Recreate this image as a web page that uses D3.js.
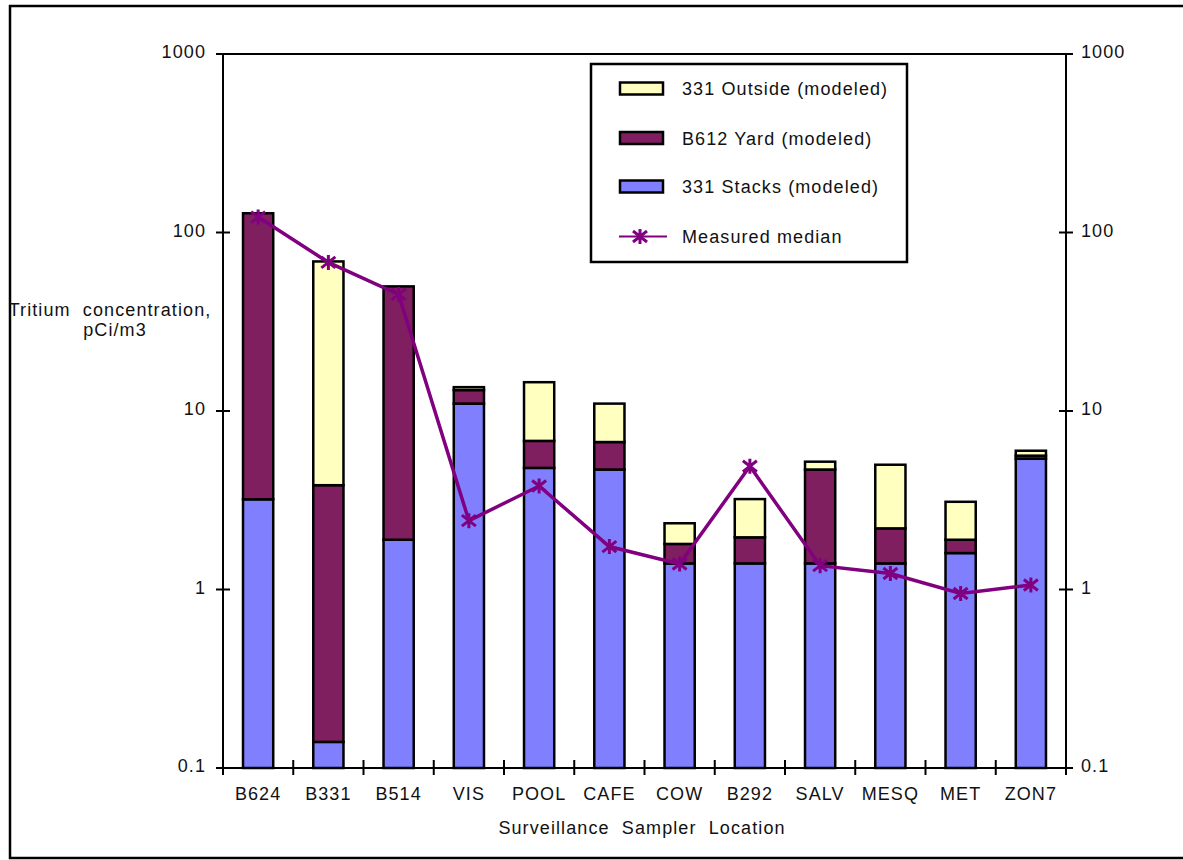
<!DOCTYPE html>
<html>
<head>
<meta charset="utf-8">
<script src="https://cdn.jsdelivr.net/npm/d3@7"></script>
<style>
  html, body { margin: 0; padding: 0; background: #fff; }
  svg { display: block; }
  text { font-family: "Liberation Sans", Arial, sans-serif; font-size: 18px; letter-spacing: 1.1px; fill: #111; white-space: pre; }
</style>
</head>
<body>
<svg id="chart" width="1183" height="860"></svg>
<script>
// Sampler locations along the x axis
const locations = ["B624", "B331", "B514", "VIS", "POOL", "CAFE", "COW", "B292", "SALV", "MESQ", "MET", "ZON7"];

// Modeled contributions (pCi/m3), stacked bottom to top
const stacks331 = [3.2, 0.14, 1.9, 11.0, 4.8, 4.7, 1.4, 1.4, 1.4, 1.4, 1.6, 5.4];
const yardB612  = [125, 3.7, 48, 2.1, 2.0, 2.0, 0.4, 0.56, 3.3, 0.8, 0.3, 0.22];
const outside331 = [0, 65, 0, 0.5, 7.7, 4.3, 0.55, 1.25, 0.5, 2.8, 1.2, 0.37];

// Measured median concentration at each sampler
const measuredMedian = [122, 68, 45, 2.43, 3.8, 1.74, 1.39, 4.9, 1.36, 1.23, 0.95, 1.06];

// Axis ticks
const yTicks = [0.1, 1, 10, 100, 1000];
const yTickLabels = ["0.1", "1", "10", "100", "1000"];

const seriesKeys = ["stacks", "yard", "outside"];
const seriesNames = {
  outside: "331 Outside (modeled)",
  yard: "B612 Yard (modeled)",
  stacks: "331 Stacks (modeled)"
};
const seriesColors = { stacks: "#8080ff", yard: "#801f5f", outside: "#ffffc0" };
const lineColor = "#800080";

const rows = locations.map((loc, i) => ({
  loc,
  stacks: stacks331[i],
  yard: yardB612[i],
  outside: outside331[i],
  median: measuredMedian[i]
}));

const svg = d3.select("#chart");
const plot = { left: 223, right: 1066, top: 54, bottom: 768 };

const x = d3.scaleBand()
  .domain(locations)
  .range([plot.left, plot.right])
  .paddingInner(0.57)
  .paddingOuter(0.285);

const y = d3.scaleLog()
  .domain([0.1, 1000])
  .range([plot.bottom, plot.top]);

// Outer frame
svg.append("rect")
  .attr("x", 10).attr("y", 6)
  .attr("width", 1190).attr("height", 852)
  .attr("fill", "none").attr("stroke", "#000").attr("stroke-width", 2.5);

// Stacked bars
const stacked = d3.stack().keys(seriesKeys)(rows);
const barLayer = svg.append("g");
stacked.forEach(layer => {
  barLayer.append("g")
    .selectAll("rect")
    .data(layer.filter(d => d[1] - d[0] > 0))
    .join("rect")
    .attr("x", d => x(d.data.loc))
    .attr("width", x.bandwidth())
    .attr("y", d => y(d[1]))
    .attr("height", d => y(Math.max(d[0], 0.1)) - y(d[1]))
    .attr("fill", seriesColors[layer.key])
    .attr("stroke", "#000")
    .attr("stroke-width", 2.5);
});

// Axis frame lines
const axisG = svg.append("g").attr("stroke", "#000").attr("stroke-width", 2).attr("fill", "none");
axisG.append("line").attr("x1", plot.left - 7).attr("x2", plot.right + 7).attr("y1", plot.top).attr("y2", plot.top);
axisG.append("line").attr("x1", plot.left).attr("x2", plot.right).attr("y1", plot.bottom).attr("y2", plot.bottom);
axisG.append("line").attr("x1", plot.left).attr("x2", plot.left).attr("y1", plot.top).attr("y2", plot.bottom + 7);
axisG.append("line").attr("x1", plot.right).attr("x2", plot.right).attr("y1", plot.top).attr("y2", plot.bottom + 7);

// Y ticks crossing both vertical axes
yTicks.forEach(t => {
  [plot.left, plot.right].forEach(ax => {
    axisG.append("line")
      .attr("x1", ax - 7).attr("x2", ax + 7)
      .attr("y1", y(t)).attr("y2", y(t));
  });
});

// Category boundary ticks on the x axis
const step = x.step();
const boundaries = [plot.left].concat(locations.map(l => x(l) + x.bandwidth() / 2 + step / 2));
boundaries.forEach(b => {
  axisG.append("line")
    .attr("x1", b).attr("x2", b)
    .attr("y1", plot.bottom - 8).attr("y2", plot.bottom + 7);
});

// Y tick labels, left and right
yTicks.forEach((t, i) => {
  svg.append("text")
    .attr("x", plot.left - 17).attr("y", y(t) + 4)
    .attr("text-anchor", "end")
    .text(yTickLabels[i]);
  svg.append("text")
    .attr("x", plot.right + 15).attr("y", y(t) + 4)
    .attr("text-anchor", "start")
    .text(yTickLabels[i]);
});

// X tick labels
locations.forEach(l => {
  svg.append("text")
    .attr("x", x(l) + x.bandwidth() / 2)
    .attr("y", 800)
    .attr("text-anchor", "middle")
    .text(l);
});

// Axis titles
svg.append("text").attr("x", 642).attr("y", 834).attr("text-anchor", "middle")
  .text("Surveillance  Sampler  Location");
svg.append("text").attr("x", 110).attr("y", 316).attr("text-anchor", "middle")
  .text("Tritium  concentration,");
svg.append("text").attr("x", 115).attr("y", 336).attr("text-anchor", "middle")
  .text("pCi/m3");

// Measured median line with asterisk markers
const cx = d => x(d.loc) + x.bandwidth() / 2;
const line = d3.line().x(cx).y(d => y(d.median));
svg.append("path")
  .datum(rows)
  .attr("d", line)
  .attr("fill", "none")
  .attr("stroke", lineColor)
  .attr("stroke-width", 3.5);

const star = "M0,-7.5V7.5M-7,-5.5L7,5.5M-7,5.5L7,-5.5";
svg.append("g")
  .selectAll("path")
  .data(rows)
  .join("path")
  .attr("transform", d => `translate(${cx(d)},${y(d.median)})`)
  .attr("d", star)
  .attr("fill", "none")
  .attr("stroke", lineColor)
  .attr("stroke-width", 3);

// Legend
const legend = svg.append("g");
legend.append("rect")
  .attr("x", 591).attr("y", 64).attr("width", 316).attr("height", 198)
  .attr("fill", "#fff").attr("stroke", "#000").attr("stroke-width", 2.5);

const legendItems = ["outside", "yard", "stacks"];
const legendY = [88.5, 138, 186.5];
legendItems.forEach((k, i) => {
  legend.append("rect")
    .attr("x", 620).attr("y", legendY[i] - 6)
    .attr("width", 43).attr("height", 12)
    .attr("fill", seriesColors[k]).attr("stroke", "#000").attr("stroke-width", 2.5);
  legend.append("text")
    .attr("x", 682).attr("y", legendY[i] + 6.5)
    .text(seriesNames[k]);
});
const lineLegY = 236.5;
legend.append("line")
  .attr("x1", 619).attr("x2", 667).attr("y1", lineLegY).attr("y2", lineLegY)
  .attr("stroke", lineColor).attr("stroke-width", 2);
legend.append("path")
  .attr("transform", `translate(640,${lineLegY})`)
  .attr("d", star)
  .attr("fill", "none").attr("stroke", lineColor).attr("stroke-width", 3);
legend.append("text")
  .attr("x", 682).attr("y", lineLegY + 6.5)
  .text("Measured median");
</script>
</body>
</html>
